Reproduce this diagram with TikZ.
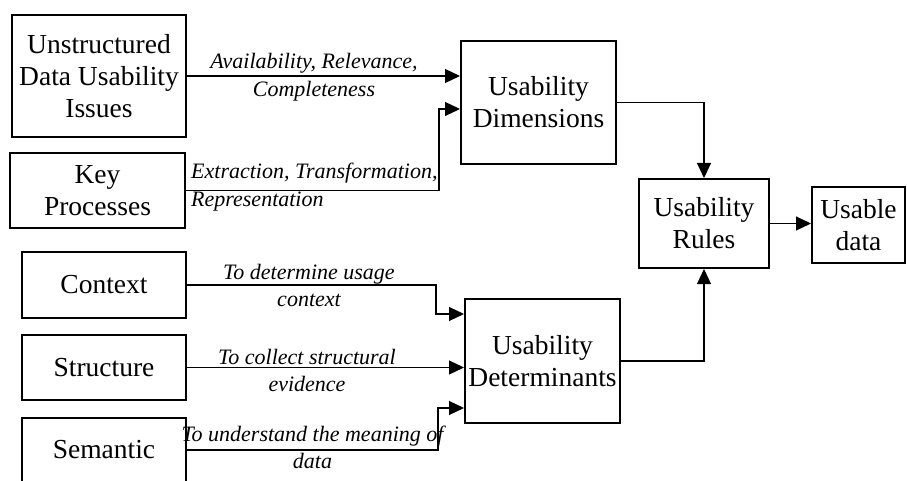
\documentclass[tikz,border=0pt]{standalone}
\usepackage{fontspec}
\setmainfont{Liberation Serif}
\usetikzlibrary{arrows.meta, positioning}

\begin{document}
\begin{tikzpicture}[
    x=1pt, y=-1pt,
    box/.style={rectangle, draw, line width=2pt, align=center, inner sep=0pt, font=\fontsize{27.5}{32}\selectfont},
    arrow/.style={-{Triangle[length=15pt, width=14pt]}, line width=1.1pt},
    lbl/.style={font=\itshape\fontsize{22}{27.5}\selectfont, align=center, inner sep=0pt}
]
    \useasboundingbox (0,0) rectangle (907,481);
    \clip (0,0) rectangle (907,481);

    % input boxes
    \node[box, minimum width=174pt, minimum height=122pt] (issues) at (99,76) {Unstructured\\Data Usability\\Issues};
    \node[box, minimum width=175pt, minimum height=75pt] (keyproc) at (97.5,190.5) {Key\\Processes};
    \node[box, minimum width=164pt, minimum height=66pt] (context) at (104,285) {Context};
    \node[box, minimum width=164pt, minimum height=65pt] (structure) at (104,367.5) {Structure};
    \node[box, minimum width=164pt, minimum height=64pt] (semantic) at (104,450) {Semantic};

    % middle and output boxes
    \node[box, minimum width=155pt, minimum height=123pt] (dims) at (538.5,102.5) {Usability\\Dimensions};
    \node[box, minimum width=155pt, minimum height=124pt] (determ) at (542.5,361) {Usability\\Determinants};
    \node[box, minimum width=130pt, minimum height=89pt] (rules) at (704,223.5) {Usability\\Rules};
    \node[box, minimum width=93pt, minimum height=76pt] (usable) at (858.5,225) {Usable\\data};

    % connectors
    \draw[arrow] (issues.east) -- (issues.east -| dims.west);
    \draw[arrow] (keyproc.east) -- ++(253pt,0) |- ([yshift=-6.5pt]dims.west);
    \draw[arrow] (context.east) -- ++(249pt,0) |- ([yshift=47pt]determ.west);
    \draw[arrow] (structure.east) -- (structure.east -| determ.west);
    \draw[arrow] (semantic.east) -- ++(251pt,0) |- ([yshift=-47pt]determ.west);
    \draw[arrow] (dims.east) -| (rules.north);
    \draw[arrow] (determ.east) -| (rules.south);
    \draw[arrow] (rules.east) -- (rules.east -| usable.west);

    % labels
    \node[lbl] (lblissues) at (314,77) {Availability, Relevance,\\Completeness};
    \node[lbl, anchor=west, align=left] (lblkey) at (191,187) {Extraction, Transformation,\\Representation};
    \node[lbl] (lblcontext) at (309,285.5) {To determine usage\\context};
    \node[lbl] (lblstructure) at (307,370.5) {To collect structural\\evidence};
    \node[lbl] (lblsemantic) at (312.5,447.5) {To understand the meaning of\\data};
\end{tikzpicture}
\end{document}
